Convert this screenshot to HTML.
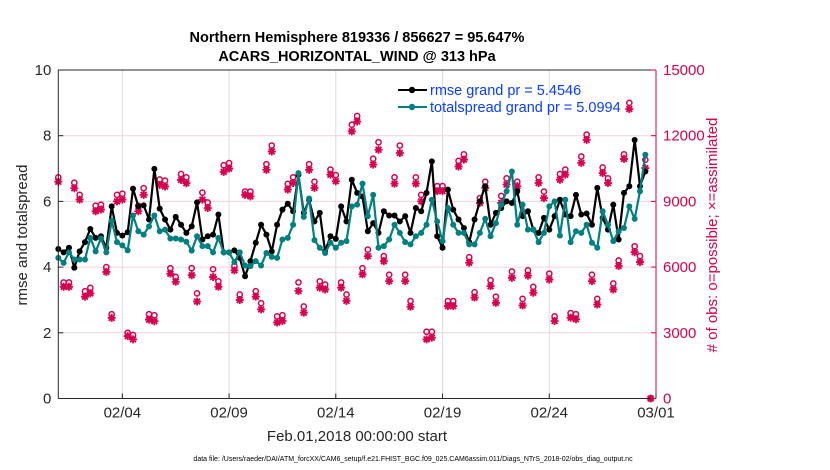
<!DOCTYPE html>
<html><head><meta charset="utf-8"><style>
html,body{margin:0;padding:0;background:#fff;}
svg{display:block;font-family:"Liberation Sans",Arial,sans-serif;}
</style></head><body>
<svg id="chart" width="830" height="470" viewBox="0 0 830 470">
<rect width="830" height="470" fill="#fff"/>
<g id="grid"></g>
<g id="obs"></g>
<g id="lines"></g>
<g id="axes"></g>
<text x="357" y="42" text-anchor="middle" font-size="14.5" font-weight="bold">Northern Hemisphere 819336 / 856627 = 95.647%</text>
<text x="357" y="61" text-anchor="middle" font-size="14.5" font-weight="bold">ACARS_HORIZONTAL_WIND @ 313 hPa</text>
<text transform="translate(27,235) rotate(-90)" text-anchor="middle" font-size="15" fill="#262626">rmse and totalspread</text>
<text transform="translate(717,235) rotate(-90)" text-anchor="middle" font-size="15" fill="#d6004f"># of obs: o=possible; ×=assimilated</text>
<text x="357" y="441" text-anchor="middle" font-size="15" fill="#262626">Feb.01,2018 00:00:00 start</text>
<text x="413" y="461" text-anchor="middle" font-size="7" fill="#000">data file: /Users/raeder/DAI/ATM_forcXX/CAM6_setup/f.e21.FHIST_BGC.f09_025.CAM6assim.011/Diags_NTrS_2018-02/obs_diag_output.nc</text>
<g>
<line x1="398" y1="90" x2="427" y2="90" stroke="#000" stroke-width="2"/>
<circle cx="412" cy="90" r="3.2" fill="#000"/>
<text x="430" y="95" font-size="14.5" fill="#0a3cff">rmse grand pr = 5.4546</text>
<line x1="398" y1="107" x2="427" y2="107" stroke="#008080" stroke-width="2"/>
<circle cx="412" cy="107" r="3.2" fill="#008080"/>
<text x="430" y="112" font-size="14.5" fill="#0a3cff">totalspread grand pr = 5.0994</text>
</g>
</svg>
<script>
const rmse = [4.55,4.45,4.59,3.98,4.48,4.76,5.16,4.89,4.94,4.59,5.85,5.04,4.96,5.06,6.39,5.85,5.88,5.45,6.99,5.78,5.45,5.14,5.53,5.29,5.04,5.24,5.97,4.84,4.94,4.99,5.60,4.45,4.45,4.51,4.28,
3.72,4.18,4.74,5.29,4.99,4.48,5.29,5.75,5.93,5.70,6.81,5.65,6.05,5.39,5.65,4.48,4.94,4.86,5.85,5.39,6.66,6.26,6.15,5.09,5.34,5.04,5.70,5.57,5.57,5.39,5.55,5.04,5.80,5.70,6.26,7.22,4.94,4.59,6.36,5.75,
5.45,5.19,4.76,5.45,6.00,6.46,5.29,5.65,5.80,6.00,5.95,6.31,5.55,5.70,5.14,5.04,5.50,5.14,5.55,6.05,5.60,5.55,6.20,5.60,5.63,5.29,6.41,5.50,5.14,5.90,4.84,6.26,6.46,7.87,6.46,6.91];
const spread = [4.28,4.13,4.45,4.23,4.23,4.23,4.89,4.48,4.87,4.45,5.41,4.76,4.66,4.51,5.57,5.09,4.99,5.24,5.57,5.09,5.14,4.87,4.87,4.84,4.77,4.50,4.94,4.64,4.64,4.45,4.89,4.45,4.45,4.15,4.45,
4.05,4.03,4.18,4.05,4.43,4.31,4.28,4.84,4.89,5.29,6.86,5.53,6.09,4.82,4.59,4.43,4.74,4.59,4.74,4.79,5.85,5.90,6.54,5.55,6.20,4.59,4.64,4.84,5.29,5.04,4.76,4.69,4.94,5.04,5.29,6.05,5.39,4.79,5.80,5.29,
5.04,5.04,4.69,4.69,5.04,5.47,4.94,5.34,5.90,6.31,6.91,5.29,5.90,5.14,5.14,4.76,5.04,5.85,6.00,4.96,6.05,4.76,5.09,5.04,5.29,4.74,4.59,5.70,5.29,4.79,5.09,5.19,5.85,5.47,6.31,7.42];
const obsAssim = [9900,5100,5100,9600,9080,4650,4800,8550,8630,5780,3680,9000,9080,2850,2700,8550,9300,3600,3530,9750,9680,5700,5330,9980,9830,5630,4430,9080,8700,5550,5100,10350,10500,5850,4500,9300,9230,
4650,4070,10440,11280,3470,3540,9540,9840,4910,3920,10440,9620,5060,4980,10220,9920,5060,4460,12200,12650,5670,6500,10680,11360,6270,5360,9810,11210,5360,4190,9810,9000,2700,2780,9470,9470,4220,4220,10590,
10910,6200,4610,8930,9620,5130,4370,8930,9770,5510,9690,4250,5610,4830,9840,9150,5430,3540,9990,10220,3690,3620,10760,11810,5360,4290,10290,9840,4980,6050,10940,13220,6680,6230,10520,0];
const obsPoss = [10100,5300,5300,9850,9300,4900,5050,8800,8850,6000,3850,9300,9350,3000,2900,8800,9600,3850,3800,10000,9950,5950,5550,10250,10100,5950,4800,9400,8950,5900,5350,10650,10750,6050,4750,9450,9450,
4900,4350,10700,11550,3750,3800,9800,10100,5300,4200,10700,9900,5350,5200,10450,10200,5300,4750,12500,12900,5950,6800,10950,11700,6500,5650,10100,11550,5650,4450,10100,9300,3050,3050,9700,9700,4450,4450,10850,
11150,6450,4850,9150,9900,5400,4650,9250,10050,5800,9900,4550,5850,5100,10100,9450,5700,3750,10250,10450,3900,3850,11050,12050,5650,4550,10550,10050,5250,6300,11150,13500,6950,6500,10900,0];
const xTickDays = [3,8,13,18,23,28];
const xTickLabels = ['02/04','02/09','02/14','02/19','02/24','03/01'];
const yTicksLeft = [0,2,4,6,8,10];
const yTicksRight = [0,3000,6000,9000,12000,15000];

const NS='http://www.w3.org/2000/svg';
const L=58.3,R=656,T=70,B=398.5;
const xScale=d=>L+(d/28)*(R-L);
const yL=v=>B-(v/10)*(B-T);
const yR=v=>B-(v/15000)*(B-T);
const stepDays=0.25;
function mk(tag,attrs,parent){const e=document.createElementNS(NS,tag);for(const k in attrs)e.setAttribute(k,attrs[k]);parent.appendChild(e);return e;}
const grid=document.getElementById('grid'),obs=document.getElementById('obs'),lines=document.getElementById('lines'),axes=document.getElementById('axes');

yTicksRight.forEach(v=>{if(v>0&&v<15000){const g=mk('line',{x1:L,x2:R,y1:yR(v),y2:yR(v),stroke:'#f0d4de','stroke-width':1},grid);

}});
xTickDays.forEach(d=>{const g=mk('line',{x1:xScale(d),x2:xScale(d),y1:T,y2:B,stroke:'#dcdcdc','stroke-width':1},grid);

});

const pink='#d6004f';
obsAssim.forEach((v,i)=>{
 const x=xScale(i*stepDays),y=yR(v);
 const s=mk('path',{d:`M${x-4},${y}H${x+4}M${x},${y-4}V${y+4}M${x-2.9},${y-2.9}L${x+2.9},${y+2.9}M${x-2.9},${y+2.9}L${x+2.9},${y-2.9}`,stroke:pink,'stroke-width':1.8,fill:'none'},obs);
 
 
});
obsPoss.forEach((v,i)=>{
 const c=mk('circle',{cx:xScale(i*stepDays),cy:yR(v),r:2.6,fill:'none',stroke:pink,'stroke-width':1.5},obs);
 
 
});

function series(arr,color,name){
 const pts=arr.map((v,i)=>xScale(i*stepDays).toFixed(1)+','+yL(v).toFixed(1)).join(' ');
 const pl=mk('polyline',{points:pts,fill:'none',stroke:color,'stroke-width':2.2,'stroke-linejoin':'round'},lines);
 
 
 arr.forEach((v,i)=>{const c=mk('circle',{cx:xScale(i*stepDays),cy:yL(v),r:3,fill:color},lines);
 
 });
}
series(rmse,'#000','rmse');
series(spread,'#008080','totalspread');

const a1=mk('line',{x1:L,x2:L,y1:T,y2:B,stroke:'#262626','stroke-width':1},axes);


const a2=mk('line',{x1:L,x2:R,y1:B,y2:B,stroke:'#262626','stroke-width':1},axes);


const a3=mk('line',{x1:R,x2:R,y1:T,y2:B,stroke:pink,'stroke-width':1},axes);


const a4=mk('line',{x1:L,x2:R,y1:T,y2:T,stroke:'#262626','stroke-width':1},axes);


yTicksLeft.forEach(v=>{
 mk('line',{x1:L,x2:L+5,y1:yL(v),y2:yL(v),stroke:'#262626'},axes);
 const t=mk('text',{x:L-7,y:yL(v)+5,'text-anchor':'end','font-size':15,fill:'#262626'},axes);
 t.textContent=String(v);
 
 
});
yTicksRight.forEach(v=>{
 mk('line',{x1:R-5,x2:R,y1:yR(v),y2:yR(v),stroke:pink},axes);
 const t=mk('text',{x:R+7,y:yR(v)+5,'font-size':15,fill:pink},axes);
 t.textContent=String(v);
 
 
});
xTickDays.forEach((d,i)=>{
 mk('line',{x1:xScale(d),x2:xScale(d),y1:B,y2:B-5,stroke:'#262626'},axes);
 const t=mk('text',{x:xScale(d),y:B+19,'text-anchor':'middle','font-size':15,fill:'#262626'},axes);
 t.textContent=xTickLabels[i];
 
 
});
</script>
</body></html>
